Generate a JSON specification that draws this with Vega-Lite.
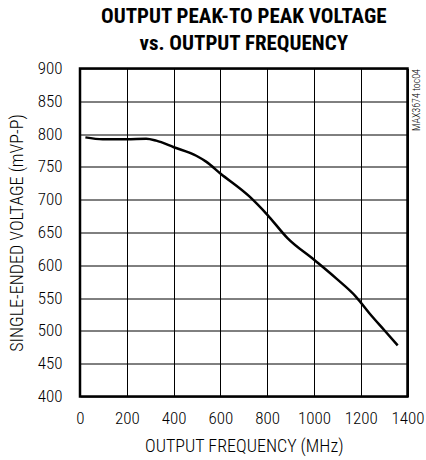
{
  "$schema": "https://vega.github.io/schema/vega-lite/v6.json",
  "autosize": {"type": "none"},
  "width": 327.5,
  "height": 328,
  "padding": {"left": 80, "top": 68.5, "right": 18.5, "bottom": 63.5},
  "background": "white",
  "title": {
    "text": ["OUTPUT PEAK-TO PEAK VOLTAGE", "vs. OUTPUT FREQUENCY"],
    "font": "Roboto Condensed",
    "fontSize": 21,
    "fontWeight": "bold",
    "color": "black",
    "anchor": "middle",
    "frame": "group",
    "lineHeight": 27,
    "offset": 6
  },
  "config": {
    "view": {"stroke": "black", "strokeWidth": 2.5},
    "axis": {
      "labelFont": "Roboto Condensed",
      "titleFont": "Roboto Condensed",
      "labelFontSize": 17,
      "titleFontSize": 17,
      "labelFontWeight": 300,
      "titleFontWeight": 300,
      "labelColor": "black",
      "titleColor": "black",
      "gridColor": "black",
      "gridOpacity": 1,
      "gridWidth": 1,
      "domain": false,
      "ticks": false
    }
  },
  "data": {
    "values": [
      {"f": 23, "v": 795},
      {"f": 97, "v": 792},
      {"f": 200, "v": 792},
      {"f": 283, "v": 793},
      {"f": 326, "v": 790},
      {"f": 401, "v": 780},
      {"f": 497, "v": 767},
      {"f": 539, "v": 758},
      {"f": 600, "v": 740},
      {"f": 724, "v": 705},
      {"f": 801, "v": 677},
      {"f": 888, "v": 641},
      {"f": 1002, "v": 608},
      {"f": 1095, "v": 580},
      {"f": 1180, "v": 552},
      {"f": 1237, "v": 527},
      {"f": 1301, "v": 501},
      {"f": 1358, "v": 478}
    ]
  },
  "layer": [
    {
      "mark": {"type": "line", "color": "black", "strokeWidth": 2.5, "interpolate": "monotone"},
      "encoding": {
        "x": {
          "field": "f", "type": "quantitative",
          "scale": {"domain": [0, 1400], "nice": false, "zero": false},
          "axis": {"values": [0, 200, 400, 600, 800, 1000, 1200, 1400], "format": "d", "labelPadding": 14, "title": "OUTPUT FREQUENCY (MHz)", "titleFontSize": 18, "titlePadding": 11, "labelFlush": false}
        },
        "y": {
          "field": "v", "type": "quantitative",
          "scale": {"domain": [400, 900], "nice": false, "zero": false},
          "axis": {"values": [400, 450, 500, 550, 600, 650, 700, 750, 800, 850, 900], "format": "d", "labelPadding": 18, "title": "SINGLE-ENDED VOLTAGE (mVP-P)", "titleFontSize": 18, "titlePadding": 11, "labelFlush": false}
        }
      }
    },
    {
      "mark": {"type": "line", "opacity": 0},
      "encoding": {
        "x": {"field": "f", "type": "quantitative"},
        "y": {
          "field": "v", "type": "quantitative",
          "axis": {"orient": "right", "labels": false, "grid": false, "title": "MAX3674 toc04", "titleFontSize": 10, "titleFont": "Roboto Condensed", "titleAnchor": "end", "titleAlign": "right", "titleBaseline": "top", "titleAngle": 270, "titlePadding": 4}
        }
      }
    }
  ],
  "resolve": {"axis": {"y": "independent"}}
}
